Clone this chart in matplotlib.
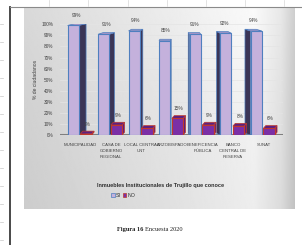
"""
Encuesta 2020 - inmuebles institucionales de Trujillo que conoce
"""
import numpy as np
import matplotlib.pyplot as plt
from matplotlib.patches import Polygon, Rectangle

# Datos
categorias = ['MUNICIPALIDAD', 'CASA DE\nGOBIERNO\nREGIONAL', 'LOCAL CENTRAL\nUNT',
              'ARZOBISPADO', 'BENEFICENCIA\nPÚBLICA', 'BANCO\nCENTRAL DE\nRESERVA', 'SUNAT']
si = [99, 91, 94, 85, 91, 92, 94]
no = [1, 9, 6, 15, 9, 8, 6]
yticks = [0, 10, 20, 30, 40, 50, 60, 70, 80, 90, 100]

FONT = ['Liberation Sans Narrow', 'Liberation Sans', 'DejaVu Sans']
plt.rcParams['font.family'] = FONT

W, H = 302, 245


def fx(x):
    return x / W


def fy(y):
    return 1 - y / H


def barra3d(ax, x, h, w, dx, dy, cara, lado, tapa, borde, z=3):
    """Barra con un poco de profundidad (estilo Excel 3D)"""
    x0, x1 = x - w / 2, x + w / 2
    if dx > 0:
        ax.add_patch(Polygon([(x1, 0), (x1 + dx, dy), (x1 + dx, h + dy), (x1, h)],
                             closed=True, fc=lado, ec=borde, lw=0.5, zorder=z))
    elif dx < 0:
        ax.add_patch(Polygon([(x0, 0), (x0 + dx, dy), (x0 + dx, h + dy), (x0, h)],
                             closed=True, fc=lado, ec=borde, lw=0.5, zorder=z))
    ax.add_patch(Polygon([(x0, h), (x1, h), (x1 + dx, h + dy), (x0 + dx, h + dy)],
                         closed=True, fc=tapa, ec=borde, lw=0.5, zorder=z))
    ax.bar(x, h, w, color=cara, edgecolor=borde, linewidth=0.8, zorder=z + 0.5)


fig = plt.figure(figsize=(W / 100, H / 100), dpi=100)

# marco de la pagina (lineas de la hoja)
fig.add_artist(plt.Line2D([fx(10), fx(10)], [fy(7), 0], color='#3a3a3a', lw=1.3))
fig.add_artist(plt.Line2D([fx(10), 1], [fy(7), fy(7)], color='#8a8a8a', lw=0.8))
for xr in [49, 88, 128, 167, 206, 245, 284]:
    fig.add_artist(plt.Line2D([fx(xr), fx(xr)], [fy(0), fy(6)], color='#d8d8d8', lw=0.5))
for yr in np.arange(24, 245, 18):
    fig.add_artist(plt.Line2D([0, fx(3)], [fy(yr), fy(yr)], color='#c8c8c8', lw=0.5))

# fondo degradado del area del grafico
bg = fig.add_axes([fx(24), fy(209), (295 - 24) / W, (209 - 7) / H])
t = np.linspace(0, 1, 300)
fila = np.interp(t, [0, 0.55, 0.85, 0.95, 1.0], [0.82, 0.90, 0.95, 0.88, 0.78])
vert = np.interp(np.linspace(0, 1, 120), [0, 0.5, 1], [0.03, 0.0, -0.02])
grad = np.clip(fila[None, :] + vert[:, None], 0, 1)
bg.imshow(grad, aspect='auto', cmap='gray', vmin=0, vmax=1, extent=[0, 1, 0, 1])
bg.axis('off')

ax = fig.add_axes([fx(60), fy(135), (283 - 60) / W, (135 - 24.3) / H])
ax.patch.set_alpha(0)

x = np.arange(len(categorias))
w = 0.37
for i in x:
    d = 0.07 * (3.4 - i)
    xs = i - 0.24
    xn = i + 0.18
    barra3d(ax, xs, si[i], w, d, 1.5, '#c4b1dc', '#3b3556', '#ad98c9', '#4f7fbf')
    barra3d(ax, xn, no[i], w, 0.08, 2.5, '#7b2fa6', '#5a1f80', '#5e2080', '#c0392b', z=4)
    ax.text(xs + d / 2, si[i] + 9, f'{si[i]}%', ha='center', va='center',
            fontsize=3.4, color='#404040')
    ax.text(xn + 0.04, no[i] + 8.5, f'{no[i]}%', ha='center', va='center',
            fontsize=3.4, color='#404040')

ax.set_xlim(-0.672, 6.64)
ax.set_ylim(0, 100)
ax.set_yticks(yticks)
ax.set_yticklabels([f'{v}%' for v in yticks], fontsize=3.4, color='#404040')
ax.set_xticks(x)
ax.set_xticklabels(categorias, fontsize=3.1, color='#404040', linespacing=1.6, va='top')
ax.tick_params(length=0, pad=5)
ax.tick_params(axis='x', pad=6)
ax.grid(axis='y', color='#e4e4e4', lw=0.5, zorder=0)
ax.axhline(0, color='#7f7f7f', lw=2.2, zorder=2)
for s in ax.spines.values():
    s.set_visible(False)
ax.set_ylabel('% de ciudadanos', fontsize=3.6, color='#404040', labelpad=2)

# titulo del eje y leyenda
fig.text(fx(161), fy(185), 'Inmuebles Institucionales de Trujillo que conoce',
         ha='center', va='center', fontsize=4.0, fontweight='bold', color='#303030')
fig.add_artist(Rectangle((fx(111), fy(197)), 3.5 / W, 4 / H, fc='#c4b1dc', ec='#4f7fbf', lw=0.5))
fig.text(fx(116), fy(195), 'SI', ha='left', va='center', fontsize=3.8, color='#303030')
fig.add_artist(Rectangle((fx(122.5), fy(197)), 3.5 / W, 4 / H, fc='#7b2fa6', ec='#c0392b', lw=0.5))
fig.text(fx(127.5), fy(195), 'NO', ha='left', va='center', fontsize=3.8, color='#303030')

# pie de figura
fig.text(fx(143), fy(229), 'Figura 16', ha='right', va='center', fontsize=4.6,
         fontweight='bold', family='Liberation Serif', color='#202020')
fig.text(fx(145), fy(229), 'Encuesta 2020', ha='left', va='center', fontsize=4.6,
         family='Liberation Serif', color='#202020')

fig.savefig('out.png', dpi=100)
